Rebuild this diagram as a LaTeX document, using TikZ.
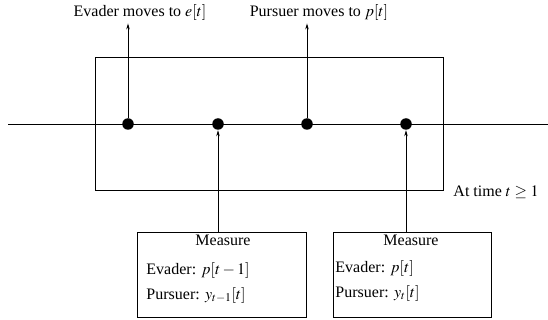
\documentclass[tikz,border=0pt]{standalone}
\usepackage{mathptmx}
\usepackage{fontspec}
\setmainfont{Liberation Serif}
\usetikzlibrary{arrows.meta}

\tikzset{
  txt/.style={font=\fontsize{16}{19}\selectfont, inner sep=0pt},
  dot/.style={circle, fill=black, minimum size=11.5pt, inner sep=0pt},
  measbox/.style={draw, line width=0.9pt, minimum width=169pt, minimum height=85pt, inner sep=0pt},
  arr/.style={line width=0.8pt, -{Stealth[length=6pt, width=3.5pt]}},
}

\begin{document}
\begin{tikzpicture}[x=1pt, y=-1pt, line width=0.9pt]
\useasboundingbox (0,0) rectangle (548,320);

% time window
\node[draw, line width=0.9pt, minimum width=348pt, minimum height=133pt, inner sep=0pt] (frame) at (269,123.5) {};

% time axis
\coordinate (axL) at (8,124);
\coordinate (axR) at (548,124);
\draw[line width=0.8pt] (axL) -- (axR);

% events on the axis
\node[dot] (d1) at (128,124) {};
\node[dot] (d2) at (218,124) {};
\node[dot] (d3) at (307,124) {};
\node[dot] (d4) at (406,124) {};

% move labels
\node[txt, inner sep=2pt] (ev) at (140,13) {Evader moves to $e[t]$};
\node[txt, inner sep=2pt] (pu) at (319,13) {Pursuer moves to $p[t]$};
\draw[arr] (d1) -- (d1 |- ev.south);
\draw[arr] (d3) -- (d3 |- pu.south);

\node[txt, anchor=west] (at) at (453,192) {At time $t \geq 1$};

% measurement boxes
\node[measbox] (m1) at (221.5,274.5) {};
\node[measbox, minimum width=158pt] (m2) at (412,274.5) {};

\node[txt] (m1h) at (223,240) {Measure};
\node[txt, anchor=west] (m1e) at (146,270) {Evader: $p[t-1]$};
\node[txt, anchor=west] (m1p) at (146,295) {Pursuer: $y_{t-1}[t]$};

\node[txt] (m2h) at (411,240) {Measure};
\node[txt, anchor=west] (m2e) at (335,268) {Evader: $p[t]$};
\node[txt, anchor=west] (m2p) at (335,293) {Pursuer: $y_{t}[t]$};

\draw[arr] (d2 |- m1.north) -- (d2);
\draw[arr] (d4 |- m2.north) -- (d4);
\end{tikzpicture}
\end{document}
